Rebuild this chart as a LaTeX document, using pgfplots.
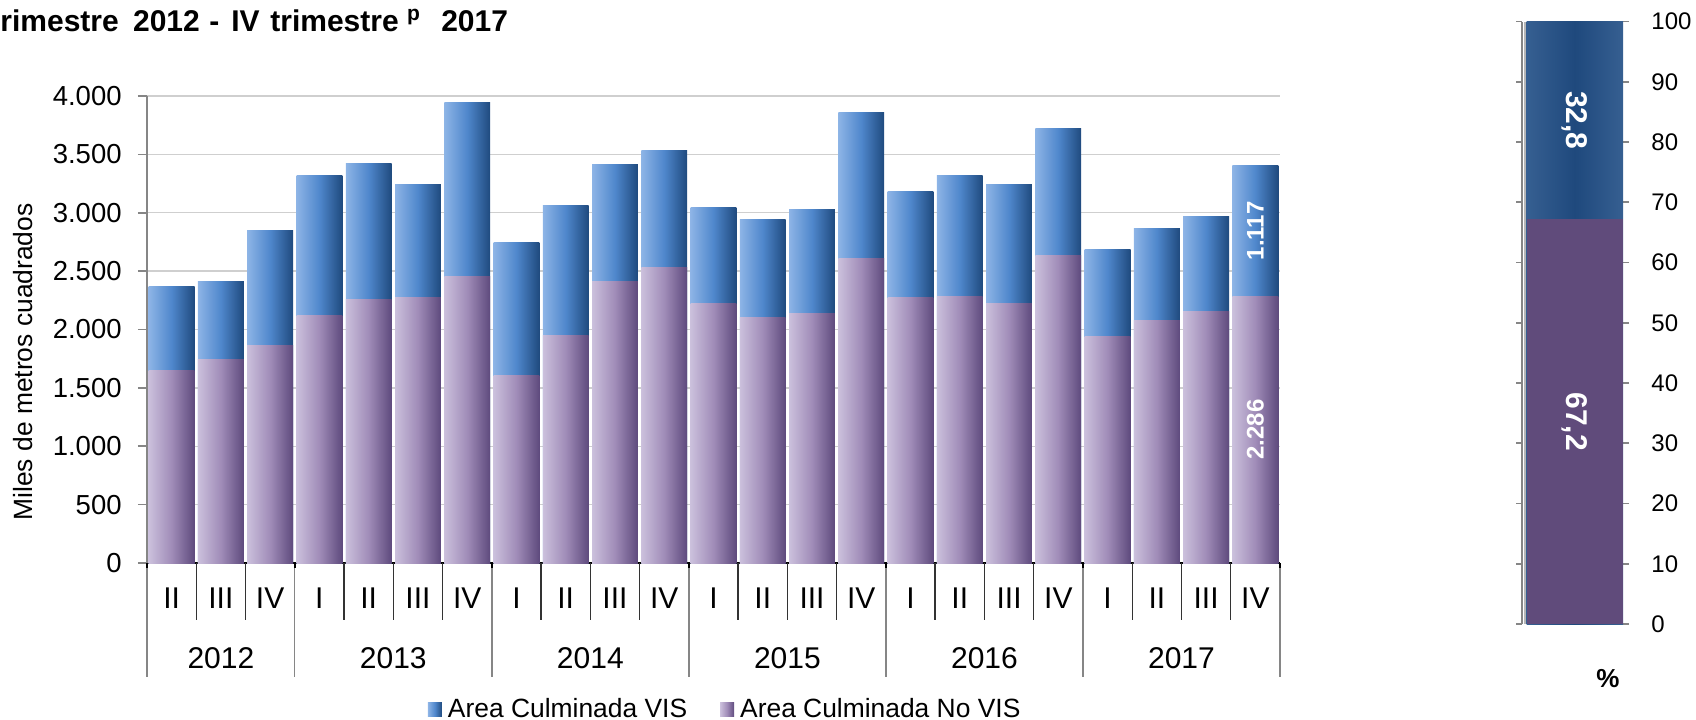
\documentclass[border=0pt]{standalone}
\usepackage{pgfplots}
\usepackage{pgfplotstable}
\pgfplotsset{compat=1.18}
\usepackage{fontspec}
\setmainfont{Liberation Sans}
\definecolor{bA}{HTML}{8DB4E6}
\definecolor{bB}{HTML}{4F87CC}
\definecolor{bC}{HTML}{1F4A7E}
\definecolor{pA}{HTML}{CBC0DC}
\definecolor{pB}{HTML}{A08CB8}
\definecolor{pC}{HTML}{5E4A7D}
\definecolor{gridgray}{HTML}{CFCFCF}
\definecolor{axgray}{HTML}{868686}
\definecolor{dbA}{HTML}{365F91}
\definecolor{dbB}{HTML}{1F497D}
\definecolor{dpur}{HTML}{604B7B}
\pgfplotsset{
  visbar/.style={ybar, bar shift=0pt, bar width=0.93, draw=none, left color=bA, right color=bC, middle color=bB},
  novisbar/.style={ybar, bar shift=0pt, bar width=0.93, draw=none, left color=pA, right color=pC, middle color=pB},
}
% one quarter: x position, Area Culminada No VIS, Area Culminada VIS
\newcommand\qbar[3]{%
  \pgfmathsetmacro\qtot{#2+#3}%
  \addplot[visbar, forget plot] coordinates {(#1,\qtot)};
  \addplot[novisbar, forget plot] coordinates {(#1,#2)};
}
\pgfplotstableread{
x novis vis
52.85 67.2 32.8
}\sharedata
\begin{document}
\begin{tikzpicture}
\useasboundingbox (0,0) rectangle (848pt,-359.5pt);
\node[anchor=base west, inner sep=0pt, font=\bfseries\fontsize{15}{17}\selectfont] at (-5pt,-15.6pt)
 {trimestre \hspace*{3pt}2012 \hspace*{0.6pt}- \hspace*{1.8pt}IV \hspace*{1.2pt}trimestre \textsuperscript{p} \hspace*{6pt}2017};
\begin{axis}[
  at={(73.5pt,-281.5pt)}, anchor=south west,
  width=566.5pt, height=233.5pt, scale only axis,
  xmin=-0.5, xmax=22.5, ymin=0, ymax=4000,
  xtick={0,...,22},
  xticklabels={II,III,IV,I,II,III,IV,I,II,III,IV,I,II,III,IV,I,II,III,IV,I,II,III,IV},
  ytick={0,500,...,4000},
  ymajorgrids, grid style={draw=gridgray, line width=0.7pt},
  axis x line*=bottom, axis y line*=left,
  x axis line style={black, line width=0.8pt},
  y axis line style={draw=axgray, line width=0.8pt},
  xtick style={draw=none},
  ytick style={draw=axgray, line width=0.8pt},
  tick align=outside, major tick length=4.5pt,
  /pgf/number format/assume math mode=true,
  yticklabel style={font=\fontsize{13.75}{16}\selectfont, inner sep=0pt, xshift=-8pt, /pgf/number format/1000 sep={.}},
  xticklabel style={font=\fontsize{15}{17}\selectfont, anchor=center, yshift=-13pt, inner sep=0pt},
  ylabel={Miles de metros cuadrados},
  ylabel style={at={(axis description cs:-0.1094,0.4304)}, anchor=center, font=\fontsize{13.2}{15}\selectfont},
  clip=false,
  legend columns=2,
  legend style={at={(axis description cs:0.248,-0.3126)}, anchor=west, draw=none, fill=none, inner sep=0pt, outer sep=0pt,
    font=\fontsize{13.2}{15}\selectfont,
    nodes={inner sep=0pt},
    /tikz/every odd column/.append style={column sep=3pt},
    /tikz/every even column/.append style={column sep=16.5pt}},
  legend image code/.code={\path[#1, draw=none] (0pt,-3.5pt) rectangle (7pt,3.5pt);},
]
\qbar{0}{1653}{719}
\qbar{1}{1739}{668}
\qbar{2}{1867}{977}
\qbar{3}{2124}{1199}
\qbar{4}{2253}{1173}
\qbar{5}{2270}{968}
\qbar{6}{2450}{1498}
\qbar{7}{1610}{1139}
\qbar{8}{1953}{1113}
\qbar{9}{2415}{1002}
\qbar{10}{2535}{1002}
\qbar{11}{2227}{822}
\qbar{12}{2107}{839}
\qbar{13}{2141}{891}
\qbar{14}{2612}{1251}
\qbar{15}{2278}{908}
\qbar{16}{2287}{1036}
\qbar{17}{2227}{1019}
\qbar{18}{2638}{1088}
\qbar{19}{1944}{745}
\qbar{20}{2081}{780}
\qbar{21}{2158}{814}
\qbar{22}{2286}{1117}
\addlegendimage{draw=none, left color=bA, right color=bC, middle color=bB}
\addlegendentry{Area Culminada VIS}
\addlegendimage{draw=none, left color=pA, right color=pC, middle color=pB}
\addlegendentry{Area Culminada No VIS}
\coordinate (labA) at (axis cs:22,2844.5);
\coordinate (labB) at (axis cs:22,1143);
\pgfplotsinvokeforeach{0.5,1.5,3.5,4.5,5.5,7.5,8.5,9.5,11.5,12.5,13.5,15.5,16.5,17.5,19.5,20.5,21.5}{
  \draw[black!80, line width=0.7pt] (axis cs:#1,0) -- ++(0pt,-28.5pt);
}
\pgfplotsinvokeforeach{-0.5,2.5,6.5,10.5,14.5,18.5,22.5}{
  \draw[axgray, line width=0.7pt] (axis cs:#1,0) -- ++(0pt,-57pt);
  \draw[black, line width=0.8pt] (axis cs:#1,0) -- ++(0pt,-2.5pt);
}
\node[font=\fontsize{15}{17}\selectfont] at ([yshift=-47.5pt]axis cs:1,0) {2012};
\node[font=\fontsize{15}{17}\selectfont] at ([yshift=-47.5pt]axis cs:4.5,0) {2013};
\node[font=\fontsize{15}{17}\selectfont] at ([yshift=-47.5pt]axis cs:8.5,0) {2014};
\node[font=\fontsize{15}{17}\selectfont] at ([yshift=-47.5pt]axis cs:12.5,0) {2015};
\node[font=\fontsize{15}{17}\selectfont] at ([yshift=-47.5pt]axis cs:16.5,0) {2016};
\node[font=\fontsize{15}{17}\selectfont] at ([yshift=-47.5pt]axis cs:20.5,0) {2017};
\end{axis}
\node[rotate=90, text=white, font=\bfseries\fontsize{12}{14}\selectfont] at (labA) {1.117};
\node[rotate=90, text=white, font=\bfseries\fontsize{12}{14}\selectfont] at (labB) {2.286};
\begin{axis}[
  at={(761pt,-312pt)}, anchor=south west,
  width=50.5pt, height=301.25pt, scale only axis,
  xmin=0, xmax=101, ymin=0, ymax=100,
  xtick=\empty,
  ytick={0,10,...,100},
  ytick pos=both, yticklabel pos=right,
  axis line style={draw=none},
  ytick style={draw=axgray, line width=0.8pt},
  tick align=outside, major tick length=3pt,
  /pgf/number format/assume math mode=true,
  yticklabel style={font=\fontsize{12}{14}\selectfont, inner sep=0pt, anchor=west, xshift=11pt},
  clip=false,
]
\addplot[ybar, bar shift=0pt, bar width=96.3, draw=none, left color=dbA, right color=dbA, middle color=dbB]
  table[x=x, y expr=\thisrow{novis}+\thisrow{vis}] {\sharedata};
\addplot[ybar, bar shift=0pt, bar width=96.3, draw=none, fill=dpur]
  table[x=x, y=novis] {\sharedata};
\draw[axgray, line width=0.8pt] (axis cs:0,0) -- (axis cs:0,100);
\draw[axgray!60, line width=0.6pt] (axis cs:3,0) -- (axis cs:3,100);
\coordinate (labC) at (axis cs:52.85,83.6);
\coordinate (labD) at (axis cs:52.85,33.6);
\end{axis}
\node[rotate=-90, text=white, font=\bfseries\fontsize{15}{17}\selectfont] at (labC) {32,8};
\node[rotate=-90, text=white, font=\bfseries\fontsize{15}{17}\selectfont] at (labD) {67,2};
\node[font=\bfseries\fontsize{13}{15}\selectfont] at (804pt,-339.5pt) {\%};
\end{tikzpicture}
\end{document}
